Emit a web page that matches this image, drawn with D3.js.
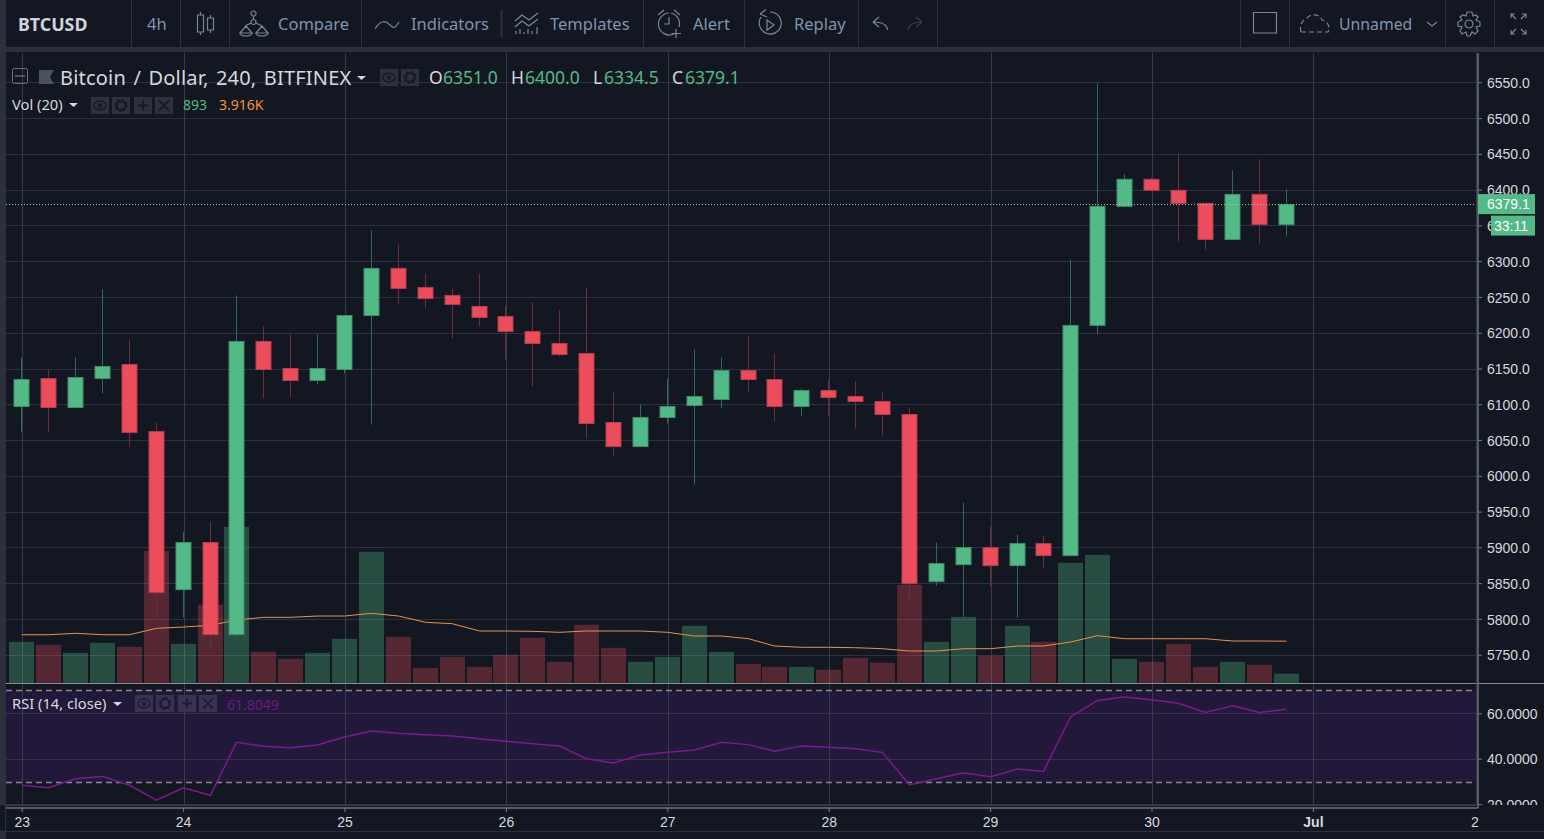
<!DOCTYPE html>
<html>
	<head>
		<title>BTCUSD</title>
		<script type="text/javascript" src="https://d3js.org/d3.v7.min.js"></script>
	</head>
	<style>
		html, body { margin: 0; padding: 0; background: #2c2f3c; overflow: hidden; }
		svg { display: block; }
		text { font-family: "Noto Sans", sans-serif; }
		.axis text { font-family: "Liberation Sans", Arial, sans-serif; font-size: 14px; fill: #d6d8de; }
		.axis line { stroke: #787b86; }
		.tool { font-size: 16.5px; fill: #7f94ad; }
		.icon { fill: none; stroke: #7a8698; stroke-width: 1.2; }
	</style>
	<body>
		<script type="text/javascript">

			// four hour candles, first one is 23 Jun 00:00
			var opens = [6096.9,6136,6095.5,6136,6155.6,6061.9,5840.9,5906.7,5778,6187.8,6150,6133.2,6148.6,6224.1,6289.9,6263.3,6252.1,6236.7,6222.7,6201.8,6185,6171,6074.5,6040.9,6081.5,6098.3,6106.7,6147.2,6134.6,6096.9,6119.2,6110.9,6103.9,6085.7,5852.1,5875.9,5899.7,5874.5,5905.3,5888.5,6210.2,6376.6,6414.4,6399,6380.8,6330.4,6393.4,6351];
			var highs = [6165.4,6148.6,6165.4,6260.5,6190.6,6074.5,5922.1,5936,6252.1,6208.8,6197.6,6197.6,6224.1,6343,6323.4,6282.9,6261.9,6282.9,6236.7,6242.3,6231.1,6263.3,6116.5,6099.7,6136,6176.6,6165.4,6194.8,6171,6122,6134.6,6131.8,6116.5,6095.5,5906.7,5962.6,5929,5917.9,5916.5,6302.5,6548.6,6421.4,6417.2,6450.7,6380.8,6427,6442.3,6400];
			var lows = [6061.9,6061.9,6095.5,6115.1,6040.9,5801.8,5801.8,5757,5775.2,6108,6109.4,6127.6,6143,6071.7,6240.9,6233.9,6192,6208.8,6162.6,6124.8,6166.8,6052.1,6028.3,6040.9,6073.1,5987.8,6094.1,6117.9,6075.9,6082.9,6084.3,6066.1,6056.3,5826.9,5846.5,5803.2,5845.1,5801.8,5871.7,5888.5,6197.6,6375.2,6397.6,6327.6,6316.4,6329,6324.8,6334.5];
			var closes = [6134.6,6095.5,6137.4,6152.8,6060.5,5836.7,5906.7,5778,6187.8,6148.6,6133.2,6150,6224.1,6289.9,6261.9,6247.9,6239.5,6221.3,6201.8,6185,6169.6,6073.1,6040.9,6081.5,6096.9,6110.9,6147.2,6134.6,6096.9,6119.2,6109.4,6103.9,6085.7,5849.3,5877.3,5899.7,5874.5,5905.3,5888.5,6210.2,6376.6,6414.4,6399,6380.8,6330.4,6393.4,6351.4,6379.1];
			var volumes = [3860,3580,2840,3770,3395,12320,3670,7300,14550,2930,2280,2840,4140,12230,4320,1440,2460,1530,2650,4230,2000,5440,3300,2000,2460,5350,2930,1810,1530,1530,1260,2370,1910,9160,3860,6180,2560,5350,3860,11210,11950,2280,2000,3670,1530,2000,1720,893];
			var volumeMa = [4520,4520,4650,4520,4520,5115,5236,5394,5887,6138,6138,6259,6259,6510,6259,5673,5543,4864,4864,4836,4743,4864,4864,4864,4743,4399,4399,4148,3469,3348,3348,3311,3218,3004,3004,3218,3218,3469,3469,3841,4427,4148,4148,4148,4148,3934,3934,3916];
			var rsi = [28.3,27.2,31.2,32.2,28.3,21.7,27.2,23.9,47.2,45.5,44.8,46,49.6,52.2,51.2,50.6,50,48.8,47.7,46.6,45.6,40,38.1,41.6,42.8,43.8,47.2,46.2,43.3,45.6,45,44.4,42.8,28.4,31.2,33.8,32.1,35.5,34.4,58.4,65.6,67.2,66,64.4,60.4,63.3,60.4,61.8];

			// axis labels
			var priceTicks = [6550,6500,6450,6400,6350,6300,6250,6200,6150,6100,6050,6000,5950,5900,5850,5800,5750];
			var rsiTicks = [60,40,20];
			var rsiBands = [70,29.5];
			var dayLabels = ["23","24","25","26","27","28","29","30","Jul","2"];
			var dayTicks = dayLabels.map(function(d, i) {return new Date(Date.UTC(2018, 5, 23 + i));});
			var dates = closes.map(function(d, i) {return new Date(Date.UTC(2018, 5, 23, i * 4));});

			var upColor = "#53b987", downColor = "#eb4d5c";
			var last = closes.length - 1;

			var svg = d3.select("body").append("svg").attr("width", 1544).attr("height", 839);

			// scales
			var x = d3.scaleUtc().domain([dayTicks[0], dayTicks[8]]).range([22.7, 1313.9]);
			var yPrice = d3.scaleLinear().domain([5750, 6550]).range([654.7, 82.3]);
			var yVol = d3.scaleLinear().domain([0, 10000]).range([683.3, 575.8]);
			var yRsi = d3.scaleLinear().domain([20, 60]).range([804.1, 713.3]);
			function cx(i) {return Math.round(x(dates[i]) - 1.5) + 0.5;}
			function isUp(i) {return closes[i] >= opens[i];}

			// panels
			svg.append("rect").attr("x", 6).attr("y", 0).attr("width", 1538).attr("height", 47).attr("fill", "#131722");
			svg.append("rect").attr("x", 6).attr("y", 52).attr("width", 1538).attr("height", 787).attr("fill", "#131722");
			svg.append("rect").attr("x", 0).attr("y", 805).attr("width", 5).attr("height", 26).attr("rx", 2).attr("fill", "#131722");

			// rsi band, it sits under the grid
			svg.append("rect")
				.attr("x", 6).attr("width", 1470)
				.attr("y", yRsi(rsiBands[0])).attr("height", yRsi(rsiBands[1]) - yRsi(rsiBands[0]))
				.attr("fill", "#22183a");

			// grid
			var grid = svg.append("g").attr("stroke-width", 1).attr("shape-rendering", "crispEdges");
			grid.selectAll(".hp").data(priceTicks).enter().append("line")
				.attr("x1", 6).attr("x2", 1476)
				.attr("y1", function(d) {return Math.round(yPrice(d)) + 0.5;})
				.attr("y2", function(d) {return Math.round(yPrice(d)) + 0.5;})
				.attr("stroke", "#2e3140");
			grid.selectAll(".hr").data(rsiTicks).enter().append("line")
				.attr("x1", 6).attr("x2", 1476)
				.attr("y1", function(d) {return Math.round(yRsi(d)) + 0.5;})
				.attr("y2", function(d) {return Math.round(yRsi(d)) + 0.5;})
				.attr("stroke", "#372f4c");
			grid.selectAll(".v").data(dayTicks.slice(0, 9)).enter().append("line")
				.attr("x1", function(d) {return Math.floor(x(d)) + 0.5;})
				.attr("x2", function(d) {return Math.floor(x(d)) + 0.5;})
				.attr("y1", 53).attr("y2", 805)
				.attr("stroke", "#383b49");

			// volume
			svg.selectAll(".vol").data(volumes).enter().append("rect")
				.attr("x", function(d, i) {return cx(i) - 12.5;})
				.attr("width", 25)
				.attr("y", function(d) {return yVol(d);})
				.attr("height", function(d) {return yVol(0) - yVol(d);})
				.attr("fill", function(d, i) {return isUp(i) ? upColor : downColor;})
				.attr("fill-opacity", function(d, i) {return isUp(i) ? 0.33 : 0.3;});

			var maLine = d3.line()
				.x(function(d, i) {return cx(i);})
				.y(function(d) {return yVol(d);});
			svg.append("path").datum(volumeMa).attr("d", maLine)
				.attr("fill", "none").attr("stroke", "#e8924a").attr("stroke-width", 1);

			// candles
			svg.selectAll(".wick").data(closes).enter().append("line")
				.attr("x1", function(d, i) {return cx(i);})
				.attr("x2", function(d, i) {return cx(i);})
				.attr("y1", function(d, i) {return yPrice(highs[i]);})
				.attr("y2", function(d, i) {return yPrice(lows[i]);})
				.attr("stroke", function(d, i) {return isUp(i) ? "#2f6b58" : "#6e2c3e";});
			svg.selectAll(".body").data(closes).enter().append("rect")
				.attr("x", function(d, i) {return cx(i) - 7.5;})
				.attr("width", 15)
				.attr("y", function(d, i) {return yPrice(Math.max(opens[i], d));})
				.attr("height", function(d, i) {return Math.abs(yPrice(opens[i]) - yPrice(d));})
				.attr("fill", function(d, i) {return isUp(i) ? upColor : downColor;})
				.attr("stroke", function(d, i) {return isUp(i) ? "#3f8f6a" : "#b53e4d";});

			// last price line
			svg.append("line")
				.attr("x1", 6).attr("x2", 1478)
				.attr("y1", yPrice(closes[last])).attr("y2", yPrice(closes[last]))
				.attr("stroke", "#8fd0b0").attr("stroke-dasharray", "1,2");

			// rsi
			svg.selectAll(".band").data(rsiBands).enter().append("line")
				.attr("x1", 6).attr("x2", 1476)
				.attr("y1", function(d) {return Math.floor(yRsi(d)) + 0.5;})
				.attr("y2", function(d) {return Math.floor(yRsi(d)) + 0.5;})
				.attr("stroke", "#8a8794").attr("stroke-width", 1.7).attr("stroke-dasharray", "6,4");
			var rsiLine = d3.line()
				.x(function(d, i) {return cx(i);})
				.y(function(d) {return yRsi(d);});
			svg.append("path").datum(rsi).attr("d", rsiLine)
				.attr("fill", "none").attr("stroke", "#7b1a8e").attr("stroke-width", 1.5);

			// frame lines
			svg.append("line").attr("x1", 6).attr("x2", 1544).attr("y1", 683.5).attr("y2", 683.5).attr("stroke", "#8a8c94");
			svg.append("line").attr("x1", 6).attr("x2", 1476).attr("y1", 805.5).attr("y2", 805.5).attr("stroke", "#383b49");
			svg.append("line").attr("x1", 6).attr("x2", 1478).attr("y1", 808).attr("y2", 808).attr("stroke", "#6f7179").attr("stroke-width", 1.5);
			svg.append("line").attr("x1", 1476.5).attr("x2", 1476.5).attr("y1", 53).attr("y2", 805).attr("stroke", "#383b49");
			svg.append("line").attr("x1", 1478).attr("x2", 1478).attr("y1", 53).attr("y2", 808).attr("stroke", "#6f7179").attr("stroke-width", 1.5);
			svg.append("line").attr("x1", 6).attr("x2", 1544).attr("y1", 831.5).attr("y2", 831.5).attr("stroke", "#2c2f3c");

			// axes
			var priceAxis = d3.axisRight(yPrice).tickValues(priceTicks).tickFormat(d3.format(".1f")).tickSize(4).tickPadding(5);
			var priceG = svg.append("g").attr("class", "axis").attr("transform", "translate(1478,0)").call(priceAxis);
			priceG.select(".domain").remove();
			priceG.selectAll("text").attr("y", 0.6);

			svg.append("clipPath").attr("id", "rsiClip").append("rect")
				.attr("x", 1470).attr("y", 685).attr("width", 74).attr("height", 120);
			var rsiAxis = d3.axisRight(yRsi).tickValues(rsiTicks).tickFormat(d3.format(".4f")).tickSize(4).tickPadding(5);
			var rsiG = svg.append("g").attr("class", "axis").attr("clip-path", "url(#rsiClip)")
				.append("g").attr("transform", "translate(1478,0)").call(rsiAxis);
			rsiG.select(".domain").remove();
			rsiG.selectAll("text").attr("y", 0.6);

			var timeAxis = d3.axisBottom(x).tickValues(dayTicks)
				.tickFormat(function(d, i) {return dayLabels[i];}).tickSize(4).tickPadding(5);
			var timeG = svg.append("g").attr("class", "axis").attr("transform", "translate(-1,808)").call(timeAxis);
			timeG.select(".domain").remove();
			timeG.selectAll("text").attr("font-weight", function(d, i) {return dayLabels[i] == "Jul" ? "bold" : null;});
			timeG.selectAll(".tick").filter(function(d, i) {return i == 9;}).select("line").remove();

			// price tags on the scale
			var tagY = yPrice(closes[last]) - 0.5;
			svg.append("rect").attr("x", 1478).attr("y", tagY - 10).attr("width", 57).attr("height", 20).attr("fill", upColor);
			svg.append("rect").attr("x", 1491).attr("y", tagY + 11.5).attr("width", 44).attr("height", 20).attr("fill", upColor);
			svg.append("text").attr("x", 1487).attr("y", tagY + 5).attr("font-size", 14)
				.style("font-family", "Liberation Sans").attr("fill", "#fff").text(d3.format(".1f")(closes[last]));
			svg.append("text").attr("x", 1494).attr("y", tagY + 26.5).attr("font-size", 14)
				.style("font-family", "Liberation Sans").attr("fill", "#fff").text("33:11");

			// toolbar
			var dividers = [131, 180, 229, 361, 643, 744, 858, 937, 1240, 1289, 1445, 1494];
			svg.selectAll(".divider").data(dividers).enter().append("line")
				.attr("x1", function(d) {return d + 0.5;}).attr("x2", function(d) {return d + 0.5;})
				.attr("y1", 0).attr("y2", 47).attr("stroke", "#2c2f3c");
			svg.append("line").attr("x1", 501.5).attr("x2", 501.5).attr("y1", 10).attr("y2", 37).attr("stroke", "#2f3340").attr("stroke-width", 2);

			svg.append("text").attr("x", 18).attr("y", 30.5).attr("font-size", 17.8).attr("font-weight", "bold")
				.attr("fill", "#d1d4dc").text("BTCUSD");
			var tools = [["4h", 147], ["Compare", 278], ["Indicators", 411], ["Templates", 550], ["Alert", 693], ["Replay", 794], ["Unnamed", 1339]];
			svg.selectAll(".tool").data(tools).enter().append("text")
				.attr("class", "tool")
				.attr("x", function(d) {return d[1];}).attr("y", 30)
				.style("font-size", function(d) {return d[0] == "Unnamed" ? "15.8px" : null;})
				.text(function(d) {return d[0];});

			// toolbar icons
			var icons = [
				"M200.500 12V15M200.500 32V35M197.500 15H203.500V32H197.500ZM210.500 15V18M210.500 30V33M207.500 18H213.500V30H207.500Z",
				"M253.500 11a2.500 2.500 0 1 0 .01 0M253.500 16V19.500M253.500 19.500a2.500 2.500 0 1 0 .01 0M251 23L245 26M256 23L262 26M246 26L240 33H252ZM262 26L256 33H268ZM240 33a6 3 0 0 0 12 0M256 33a6 3 0 0 0 12 0",
				"M375 29C381 19 386 21 390 25S395 28 399 22",
				"M515 21L522 15L529 20L538 13M515 27L522 21L529 26L538 19",
				"M516 34V31M520 34V29M524 34V32M528 34V29M532 34V31M537 34V27",
				"M669 13a11 11 0 1 0 5 21M671 13a11 11 0 0 1 8 14M669 17V24H664M676 29V38M671.500 33.500H681M658 15L664 10M680 15L674 10",
				"M770 12a11 11 0 1 1-9 5M760 14L766 9.500M760 14L767 17M767 20L774 25L767 30Z",
				"M887.500 30C887 24 882 22 873 22M873 22L879 17M873 22L879 27",
				"M1253.500 12.500H1276.500V33H1253.500Z",
				"M1301 32H1328C1331 26 1326 20 1322 20C1320 14 1311 13 1307 18C1302 20 1299 26 1301 32Z",
				"M1427 22L1432 26L1437 22",
				"M1515 14H1511V18M1511 14L1516 19M1522 14H1526V18M1526 14L1521 19M1515 34H1511V30M1511 34L1516 29M1522 34H1526V30M1526 34L1521 29",
				"M1469 12L1472 12L1473 16L1476 15L1478 17L1476 20L1480 22V26L1476 27L1478 31L1475 34L1472 32L1470 36H1467L1466 32L1462 34L1460 31L1462 27L1458 26V22L1462 20L1460 17L1463 15L1466 16L1467 12ZM1469 20a4 4 0 1 0 .01 0"
			];
			svg.selectAll(".icon").data(icons).enter().append("path")
				.attr("class", "icon")
				.attr("d", function(d) {return d;})
				.attr("stroke-dasharray", function(d, i) {return i == 9 ? "5,3" : null;});
			svg.append("path").attr("d", "M908 30C908.500 24 913 22 922 22M922 22L916 17M922 22L916 27")
				.attr("fill", "none").attr("stroke", "#3a3f4c").attr("stroke-width", 1.2);

			// legend title
			svg.append("rect").attr("x", 12.500).attr("y", 68.500).attr("width", 15).attr("height", 15).attr("rx", 2)
				.attr("fill", "none").attr("stroke", "#6b6f7c");
			svg.append("line").attr("x1", 15).attr("x2", 25).attr("y1", 76).attr("y2", 76).attr("stroke", "#8a8c94");
			svg.append("path").attr("d", "M39 70H54L50 77L54 84H39Z").attr("fill", "#4a5260");
			svg.append("text").attr("x", 60).attr("y", 84.500).attr("font-size", 20).attr("fill", "#d6d8de")
				.attr("letter-spacing", 0.2).attr("word-spacing", 2)
				.text("Bitcoin / Dollar, 240, BITFINEX");

			var ohlc = [["O", 429, opens[last], 443], ["H", 511, highs[last], 525], ["L", 593, lows[last], 604], ["C", 672, closes[last], 685]];
			ohlc.forEach(function(d) {
				svg.append("text").attr("x", d[1]).attr("y", 84).attr("font-size", 17.500).attr("fill", "#d6d8de").text(d[0]);
				svg.append("text").attr("x", d[3]).attr("y", 84).attr("font-size", 17.500).attr("fill", upColor).text(d3.format(".1f")(d[2]));
			});

			// indicator legends
			function caret(xPos, yPos) {
				svg.append("path").attr("d", d3.line()([[xPos, yPos], [xPos + 9, yPos], [xPos + 4.5, yPos + 4]])).attr("fill", "#d6d8de");
			}
			caret(357, 76);
			caret(69, 103);
			caret(113, 702);

			svg.append("text").attr("x", 12).attr("y", 110).attr("font-size", 14.7).attr("fill", "#d6d8de").text("Vol (20)");
			svg.append("text").attr("x", 183).attr("y", 110).attr("font-size", 14).attr("fill", upColor).text(volumes[last]);
			svg.append("text").attr("x", 219).attr("y", 110).attr("font-size", 14).attr("fill", "#f5923e").text(d3.format(".3f")(volumeMa[last] / 1000) + "K");
			svg.append("text").attr("x", 12).attr("y", 709).attr("font-size", 14.7).attr("fill", "#d6d8de").text("RSI (14, close)");
			svg.append("text").attr("x", 227).attr("y", 710).attr("font-size", 14).attr("fill", "#6d1a80").text("61.8049");

			// the small square buttons next to each legend
			function buttons(list, yPos, count, fill, ink) {
				list.slice(0, count).forEach(function(xPos, i) {
					svg.append("rect").attr("x", xPos).attr("y", yPos).attr("width", 18).attr("height", 17).attr("fill", fill);
					var g = svg.append("g").attr("transform", "translate(" + (xPos + 9) + "," + (yPos + 8.500) + ")")
						.attr("fill", "none").attr("stroke", ink).attr("stroke-width", 1.600);
					if (i == 0) {
						g.append("ellipse").attr("rx", 6).attr("ry", 4.500);
						g.append("circle").attr("r", 1.500);
					} else if (i == 1) {
						g.append("circle").attr("r", 4.500).attr("stroke-width", 2.500);
						g.append("circle").attr("r", 6).attr("stroke-width", 1.500).attr("stroke-dasharray", "2,2.700");
					} else if (i == 2) {
						g.append("path").attr("d", "M-5 0H5M0-5V5").attr("stroke-width", 2);
					} else {
						g.append("path").attr("d", "M-5-5L5 5M5-5L-5 5").attr("stroke-width", 1.800);
					}
				});
			}
			buttons([380, 401], 69, 2, "#2c313d", "#171b26");
			buttons([91, 112, 134, 155], 97, 4, "#2c313d", "#171b26");
			buttons([135, 156, 178, 199], 695, 4, "#3a3350", "#22183a");

		</script>
	</body>
</html>
